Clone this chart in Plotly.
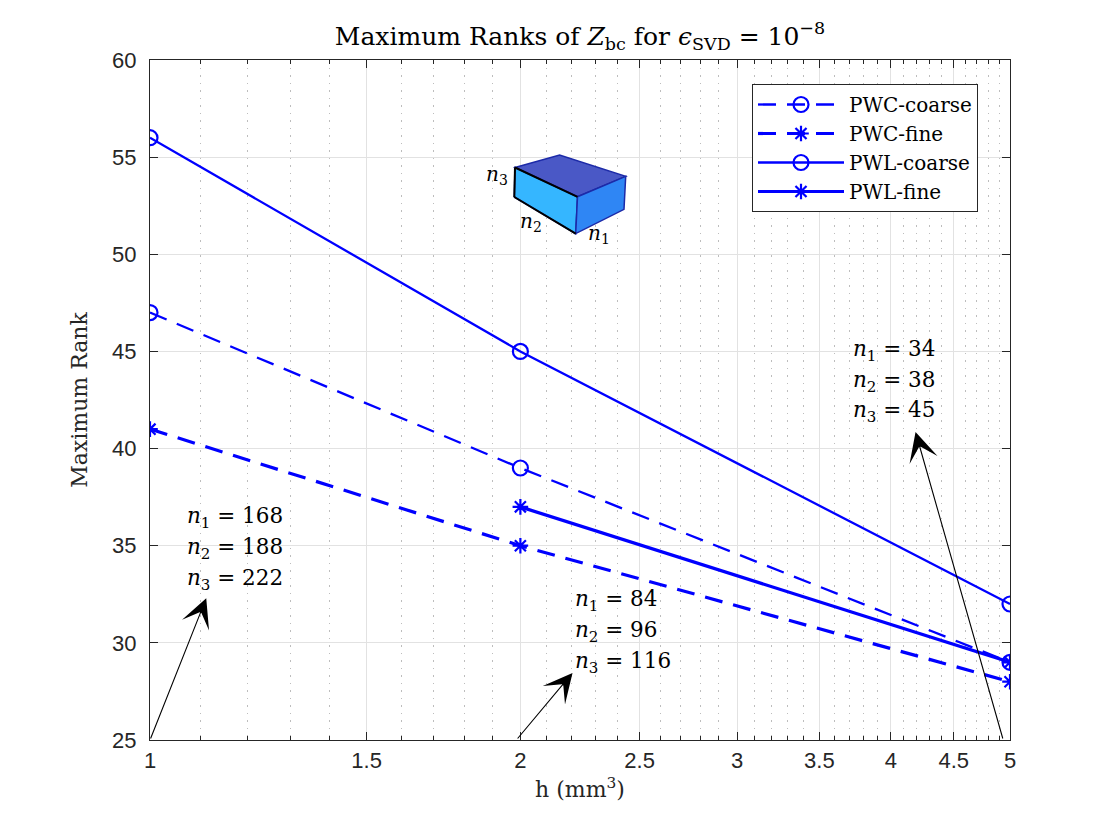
import math
import plotly.graph_objects as go

# ---- data ----
h = [1, 2, 5]
pwc_coarse = [47, 39, 29]
pwc_fine = [41, 35, 28]
pwl_coarse = [56, 45, 32]
pwl_fine = [None, 37, 29]

x_ticks = [1, 1.5, 2, 2.5, 3, 3.5, 4, 4.5, 5]
x_ticklabels = ["1", "1.5", "2", "2.5", "3", "3.5", "4", "4.5", "5"]
y_ticks = [25, 30, 35, 40, 45, 50, 55, 60]
x_minor = [round(1 + 0.1 * i, 1) for i in range(1, 40)]
x_minor = [v for v in x_minor if v not in x_ticks]

grid_labels = [
    ("168", "188", "222"),
    ("84", "96", "116"),
    ("34", "38", "45"),
]

BLUE = "#0000ff"
SERIF = "DejaVu Serif, serif"
SANS = "Liberation Sans, Arial, Helvetica, sans-serif"

# page offset (body margin 8px) -> figure sized so plot area sits at 150..1010 x 60..740 on page
OFF = 8
W, H = 1107 - 2 * OFF, 830 - 2 * OFF
L, R, T, B = 150, 1010, 60, 740  # page pixel coordinates of the plot area

fig = go.Figure()

series = [
    ("PWC-coarse", pwc_coarse, "18px,11px", "circle-open", 15, 2.3),
    ("PWC-fine", pwc_fine, "18px,11px", "asterisk-open", 13, 3.2),
    ("PWL-coarse", pwl_coarse, "solid", "circle-open", 15, 2.3),
    ("PWL-fine", pwl_fine, "solid", "asterisk-open", 13, 3.2),
]
for name, yv, dash, sym, ms, lw in series:
    fig.add_trace(go.Scatter(
        x=h, y=yv, name=name, mode="lines+markers", legendgroup=name,
        line=dict(color=BLUE, width=lw, dash=dash),
        marker=dict(symbol=sym, size=ms, color=BLUE, line=dict(color=BLUE, width=2.2)),
        connectgaps=False,
    ))


def px(xp):
    return (xp - L) / (R - L)


def py(yp):
    return (B - yp) / (B - T)


# ---- annotation arrows (head, tail) in data coords ----
arrows = [
    ((1.111, 32.3), (1.0, 25.0)),
    ((2.205, 28.45), (1.985, 25.0)),
    ((4.19, 40.85), (4.937, 25.0)),
]
for (hx, hy), (tx, ty) in arrows:
    fig.add_annotation(
        x=math.log10(hx), y=hy, ax=math.log10(tx), ay=ty,
        xref="x", yref="y", axref="x", ayref="y",
        text="", showarrow=True, arrowhead=3, arrowsize=4.4,
        arrowwidth=1.1, arrowcolor="black",
    )

# ---- text blocks ----
text_pos = [(185, 517), (573, 600), (851, 350)]
for (lx, ly), labels in zip(text_pos, grid_labels):
    for i, val in enumerate(labels):
        fig.add_annotation(
            x=px(lx), y=py(ly + i * 31), xref="paper", yref="paper",
            xanchor="left", yanchor="middle", showarrow=False,
            text=f"<i>n</i><sub>{i+1}</sub> = {val}",
            font=dict(family=SERIF, size=21.5, color="black"),
        )

# ---- cube sketch ----
A = (515, 167.5)
Bk = (559.6, 155)
C = (625.7, 176.4)
D = (577.5, 196.8)
E = (575.7, 233.6)
F = (514.3, 197)
G = (624, 209.3)


def path(pts):
    return "M " + " L ".join(f"{px(a):.5f},{py(b):.5f}" for a, b in pts) + " Z"


faces = [
    ([A, Bk, C, D], "#4a58c6"),
    ([A, D, E, F], "#35b6ff"),
    ([D, C, G, E], "#2f86f4"),
]
for pts, col in faces:
    fig.add_shape(type="path", path=path(pts), xref="paper", yref="paper",
                  fillcolor=col, line=dict(color="#1c2aa8", width=1.5), layer="above")
for p1, p2 in [(A, D), (A, F), (F, E)]:
    fig.add_shape(type="line", x0=px(p1[0]), y0=py(p1[1]), x1=px(p2[0]), y1=py(p2[1]),
                  xref="paper", yref="paper", line=dict(color="black", width=2), layer="above")

for lab, (lx, ly) in [("3", (497, 175)), ("2", (531, 222)), ("1", (599, 234))]:
    fig.add_annotation(
        x=px(lx), y=py(ly), xref="paper", yref="paper", showarrow=False,
        xanchor="center", yanchor="middle",
        text=f"<i>n</i><sub>{lab}</sub>",
        font=dict(family=SERIF, size=20, color="black"),
    )

fig.update_layout(
    width=W, height=H,
    margin=dict(l=L - OFF, r=W - (R - OFF), t=T - OFF, b=H - (B - OFF), pad=0),
    paper_bgcolor="white", plot_bgcolor="white",
    title=dict(
        text="Maximum Ranks of <i>Z</i><sub>bc</sub> for <i>ϵ</i><sub>SVD</sub> = 10<sup>−8</sup>",
        x=px(580), xref="paper", xanchor="center", y=1 - (36 - OFF) / H, yanchor="middle",
        font=dict(family=SERIF, size=25, color="black"),
    ),
    showlegend=True,
    legend=dict(
        x=px(752), y=py(84), xanchor="left", yanchor="top",
        bgcolor="white", bordercolor="#262626", borderwidth=1,
        font=dict(family=SERIF, size=20, color="black"),
        traceorder="grouped", tracegroupgap=0, itemwidth=86,
    ),
    xaxis=dict(
        type="log", range=[0, math.log10(5)],
        tickmode="array", tickvals=x_ticks, ticktext=x_ticklabels,
        ticks="inside", ticklen=8, tickwidth=1, tickcolor="#262626",
        showline=True, linecolor="#262626", linewidth=1.3, mirror="allticks",
        showgrid=True, gridcolor="#e2e2e2", gridwidth=1,
        minor=dict(tickmode="array", tickvals=x_minor, ticks="inside", ticklen=4,
                   tickcolor="#262626", showgrid=True, gridcolor="#bdbdbd",
                   griddash="1.5px,6px", gridwidth=1),
        tickfont=dict(family=SANS, size=22, color="#262626"),
        title=dict(text="h (mm<sup>3</sup>)", font=dict(family=SERIF, size=22, color="#262626"),
                   standoff=10),
        zeroline=False,
    ),
    yaxis=dict(
        range=[25, 60], tickmode="array", tickvals=y_ticks,
        ticks="inside", ticklen=8, tickwidth=1, tickcolor="#262626",
        showline=True, linecolor="#262626", linewidth=1.3, mirror="allticks",
        showgrid=True, gridcolor="#e2e2e2", gridwidth=1,
        tickfont=dict(family=SANS, size=22, color="#262626"),
        ticklabelstandoff=8,
        title=dict(text="Maximum Rank", font=dict(family=SERIF, size=22, color="#262626"),
                   standoff=18),
        zeroline=False,
    ),
)

fig.write_html("out.html")
